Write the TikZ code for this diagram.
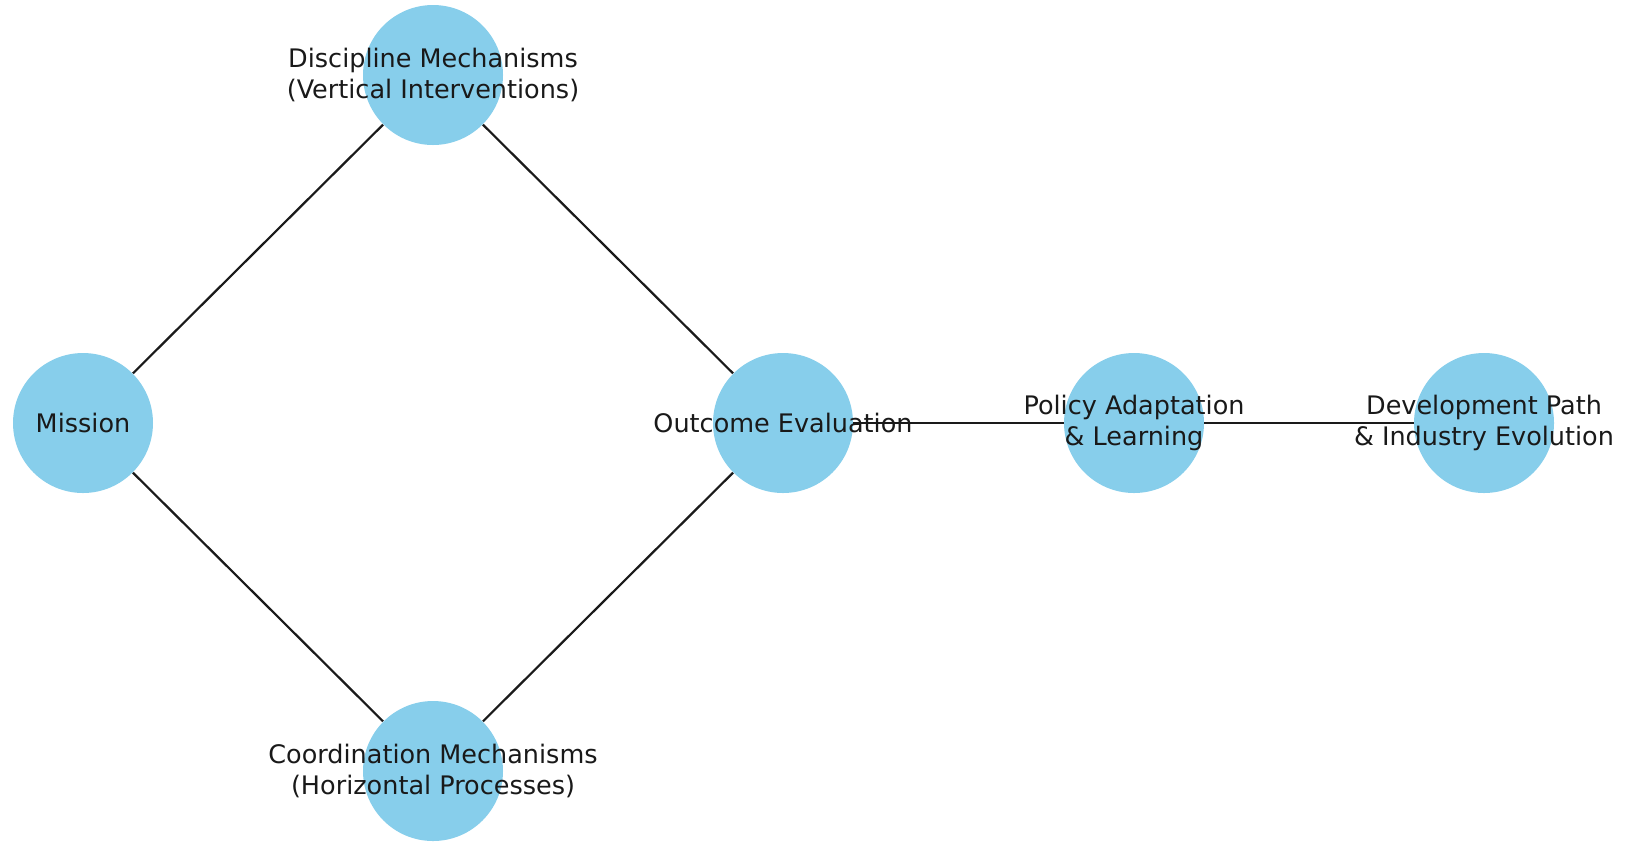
\documentclass[tikz,border=0pt]{standalone}
\usepackage{fontspec}
\setmainfont{DejaVu Sans}
\usetikzlibrary{positioning}
\definecolor{nodeblue}{HTML}{87CEEB}
\definecolor{edgegray}{HTML}{1A1A1A}

\begin{document}
\begin{tikzpicture}[
    x=0.5pt, y=-0.5pt,
    stage/.style={circle, fill=nodeblue, draw=none, minimum size=70pt, inner sep=0pt},
    stagetext/.style={font=\fontsize{12.75pt}{15.4pt}\selectfont, align=center, inner sep=0pt,
                      text=black!90},
    link/.style={line width=1.1pt, color=edgegray}
]
\useasboundingbox (0,0) rectangle (1626,843);

% --- circles ---
\node[stage] (mis) at (83, 423)   {};
\node[stage] (dis) at (433, 75)   {};
\node[stage] (coo) at (433, 771)  {};
\node[stage] (out) at (783, 423)  {};
\node[stage] (pol) at (1134, 423) {};
\node[stage] (dev) at (1484, 423) {};

% --- edges ---
\draw[link] (mis) -- (dis);
\draw[link] (mis) -- (coo);
\draw[link] (dis) -- (out);
\draw[link] (coo) -- (out);
\draw[link] (out) -- (pol);
\draw[link] (pol) -- (dev);

% --- labels ---
\node[stagetext] (mist) at (mis) {Mission};
\node[stagetext] (dist) at (dis) {Discipline Mechanisms\\(Vertical Interventions)};
\node[stagetext] (coot) at (coo) {Coordination Mechanisms\\(Horizontal Processes)};
\node[stagetext] (outt) at (out) {Outcome Evaluation};
\node[stagetext] (polt) at (pol) {Policy Adaptation\\\& Learning};
\node[stagetext] (devt) at (dev) {Development Path\\\& Industry Evolution};

\end{tikzpicture}
\end{document}
